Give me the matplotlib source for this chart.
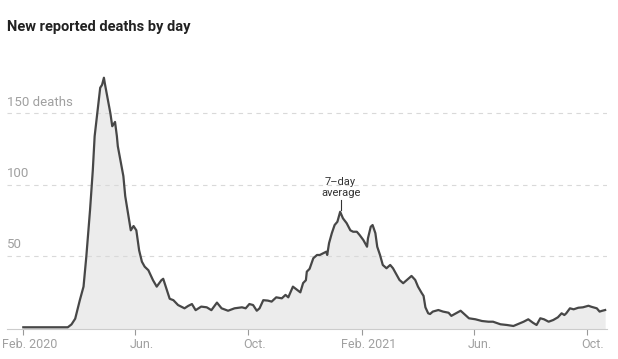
import matplotlib
matplotlib.use("Agg")
import matplotlib.pyplot as plt
import matplotlib.transforms as mtransforms
import numpy as np
import pandas as pd

plt.rcParams["font.family"] = ["Roboto", "DejaVu Sans"]

# days since Feb. 1, 2020 and the 7-day average
day = [0, 48, 52, 56, 61, 65, 68, 72, 75, 77, 81, 83, 85, 87, 88, 90, 94, 96,
       99, 101, 102, 106, 108, 110, 113, 116, 119, 122, 125, 128, 131, 135,
       140, 144, 149, 151, 155, 158, 162, 167, 174, 178, 182, 186, 192, 198,
       203, 209, 214, 221, 228, 236, 240, 244, 248, 252, 255, 259, 264, 268,
       273, 279, 283, 286, 291, 296, 299, 302, 305, 306, 309, 313, 317, 320,
       324, 327, 328, 330, 333, 336, 339, 341, 342, 345, 349, 353, 356, 360,
       363, 367, 371, 372, 375, 377, 380, 382, 385, 388, 392, 396, 399, 403,
       406, 410, 414, 419, 423, 426, 430, 432, 434, 437, 439, 442, 448, 453,
       459, 462, 467, 472, 477, 481, 488, 495, 502, 507, 515, 522, 529, 534,
       540, 545, 550, 554, 558, 562, 567, 572, 577, 581, 584, 586, 590, 594,
       599, 604, 610, 613, 619, 622, 625, 628]
deaths = [0, 0, 2, 6, 19, 28.5, 49.5, 82, 110, 134, 157, 168, 170, 175, 171,
          164, 150, 141, 144, 134, 127, 113, 106, 92, 80, 68, 71, 68, 54, 46,
          42.5, 40, 33, 28.5, 33, 34, 26, 20, 19, 15.6, 13.3, 15, 16.3, 12,
          14.5, 14, 12, 17.3, 13.3, 11.6, 13.3, 14, 13.3, 16.3, 15.6, 11.6,
          13.3, 19, 18.7, 18, 21, 20.3, 22.7, 21, 28.5, 26, 24.5, 31, 33, 39,
          41, 48.4, 50.7, 50.7, 52, 53, 50.7, 59, 66, 71.7, 74, 78.7, 81,
          76.4, 73, 68, 67, 67, 64.7, 61.2, 56.5, 62.4, 70.5, 71.7, 66, 56.5,
          50.7, 43.7, 41.4, 43.7, 41.4, 36.7, 33.2, 30.9, 33.2, 36, 33.2,
          28.5, 24, 22, 14, 9.8, 9.3, 11, 12.1, 11, 10.2, 8, 9.8, 11.6, 8.6,
          6.3, 5.6, 4.4, 3.9, 3.9, 2.1, 1.6, 0.9, 2.3, 3.9, 5.6, 3.2, 1.6,
          6.3, 5.6, 3.9, 5.1, 7, 9.8, 8.6, 9.8, 13.3, 12.6, 13.7, 14, 15.1,
          14.4, 13.3, 11, 11.6, 12.1]

tick_dates = ["2020-02-01", "2020-06-01", "2020-10-01",
              "2021-02-01", "2021-06-01", "2021-10-01"]
tick_labels = ["Feb. 2020", "Jun.", "Oct.", "Feb. 2021", "Jun.", "Oct."]
y_ticks = [50, 100, 150]
y_labels = ["50", "100", "150 deaths"]

start = pd.Timestamp("2020-02-01")
dates = start + pd.to_timedelta(day, unit="D")

fig = plt.figure(figsize=(6.18, 3.59), dpi=100, facecolor="white")
ax = fig.add_axes([7 / 618, 0.0844, 600 / 618, 0.7189])

ax.fill_between(dates, deaths, -1, color="#ececec", lw=0)
ax.plot(dates, deaths, color="#474747", lw=1.6, solid_joinstyle="round",
        clip_on=False, zorder=3)

ax.set_xlim(start - pd.Timedelta(days=17.6), start + pd.Timedelta(days=630))
ax.set_ylim(-1, 180)

for v, lab in zip(y_ticks, y_labels):
    ax.axhline(v, color="#d9d9d9", lw=0.8, ls=(0, (4, 4)), zorder=1)
    ax.annotate(lab, xy=(0, v), xycoords=("axes fraction", "data"),
                xytext=(0, 3.5), textcoords="offset points",
                ha="left", va="bottom", fontsize=9.5, color="#a0a0a0")

ax.set_yticks([])
ax.set_xticks(pd.to_datetime(tick_dates))
ax.set_xticklabels(tick_labels)
ax.tick_params(axis="x", length=4, width=0.8, color="#999999",
               labelsize=9, labelcolor="#a0a0a0", pad=3)
shift = mtransforms.ScaledTranslation(6 / 100, 0, fig.dpi_scale_trans)
for lab in ax.get_xticklabels():
    lab.set_transform(lab.get_transform() + shift)

for s in ["left", "right", "top"]:
    ax.spines[s].set_visible(False)
ax.spines["bottom"].set_color("#cccccc")
ax.spines["bottom"].set_linewidth(0.8)

# annotation on the winter peak
peak = start + pd.Timedelta(days=342.5)
ax.plot([peak, peak], [82.5, 89], color="#333333", lw=0.8)
ax.text(peak, 91, "7–day\naverage", ha="center", va="bottom",
        fontsize=8, color="#333333", linespacing=1.1)

fig.text(7 / 618, 1 - 27 / 359, "New reported deaths by day",
         fontsize=10.5, fontweight="bold", color="#222222", va="center")

fig.savefig("out.png", dpi=100, facecolor="white")
